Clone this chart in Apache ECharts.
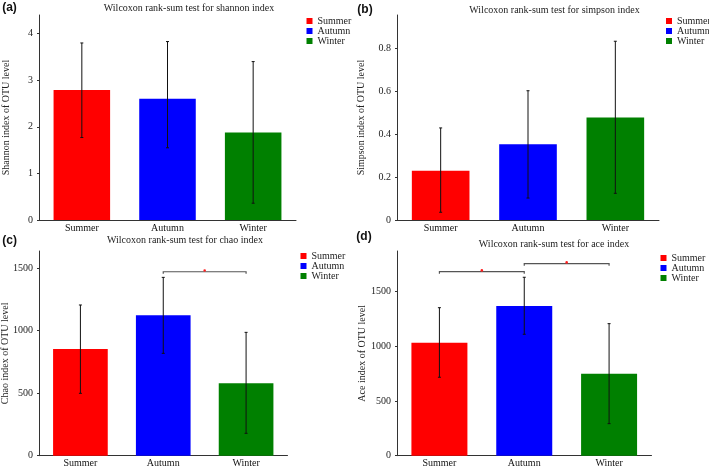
<!DOCTYPE html>
<html>
<head>
<meta charset="utf-8">
<script src="https://cdn.jsdelivr.net/npm/echarts@6/dist/echarts.min.js"></script>
<style>html,body{margin:0;padding:0;background:#fff}#c{width:709px;height:470px}</style>
</head>
<body>
<div id="c"></div>
<script>
const categories = ['Summer', 'Autumn', 'Winter'];
const colors = ['#ff0000', '#0000ff', '#008000'];

const shannonMean = [2.79, 2.60, 1.88];
const shannonLow = [1.77, 1.55, 0.36];
const shannonHigh = [3.80, 3.83, 3.40];
const shannonTicks = [0, 1, 2, 3, 4];

const simpsonMean = [0.229, 0.352, 0.476];
const simpsonLow = [0.036, 0.102, 0.124];
const simpsonHigh = [0.428, 0.601, 0.831];
const simpsonTicks = [0, 0.2, 0.4, 0.6, 0.8];

const chaoMean = [854, 1123, 579];
const chaoLow = [499, 819, 179];
const chaoHigh = [1206, 1427, 987];
const chaoTicks = [0, 500, 1000, 1500];
const chaoSig = [[1, 2, 1472]];

const aceMean = [1033, 1368, 750];
const aceLow = [717, 1110, 293];
const aceHigh = [1353, 1631, 1207];
const aceTicks = [0, 500, 1000, 1500];
const aceSig = [[0, 1, 1682], [1, 2, 1755]];

const panels = [
  {mean: shannonMean, low: shannonLow, high: shannonHigh, ticks: shannonTicks, max: 4.4, sig: [],
   title: 'Wilcoxon rank-sum test for shannon index', yname: 'Shannon index of OTU level', tag: '(a)',
   grid: {left: 39, top: 15, width: 257, height: 205}, nameGap: 28,
   titlePos: [189, 8], tagPos: [9.5, 7.5], legendPos: [306.5, 16]},
  {mean: simpsonMean, low: simpsonLow, high: simpsonHigh, ticks: simpsonTicks, max: 0.953, sig: [],
   title: 'Wilcoxon rank-sum test for simpson index', yname: 'Simpson index of OTU level', tag: '(b)',
   grid: {left: 397, top: 15, width: 262, height: 205}, nameGap: 31,
   titlePos: [554.5, 10], tagPos: [365, 10], legendPos: [666, 16]},
  {mean: chaoMean, low: chaoLow, high: chaoHigh, ticks: chaoTicks, max: 1638, sig: chaoSig,
   title: 'Wilcoxon rank-sum test for chao index', yname: 'Chao index of OTU level', tag: '(c)',
   grid: {left: 39, top: 251, width: 248.5, height: 204.7}, nameGap: 29,
   titlePos: [185, 240.5], tagPos: [9.7, 240.5], legendPos: [300.5, 251]},
  {mean: aceMean, low: aceLow, high: aceHigh, ticks: aceTicks, max: 1871, sig: aceSig,
   title: 'Wilcoxon rank-sum test for ace index', yname: 'Ace index of OTU level', tag: '(d)',
   grid: {left: 397, top: 251, width: 254.5, height: 204.7}, nameGap: 30,
   titlePos: [554, 244], tagPos: [364, 237], legendPos: [660.5, 253]}
];

const FONT = '"Liberation Serif", "Times New Roman", serif';
const grid = [], xAxis = [], yAxis = [], series = [], legend = [], graphic = [];

panels.forEach((p, gi) => {
  grid.push(Object.assign({outerBoundsMode: 'none', containLabel: false}, p.grid));
  xAxis.push({
    type: 'category', gridIndex: gi, data: categories,
    axisLine: {lineStyle: {color: '#333', width: 1}},
    axisTick: {show: false},
    axisLabel: {fontFamily: FONT, fontSize: 10, color: '#111', margin: 3}
  });
  yAxis.push({
    type: 'value', gridIndex: gi, min: 0, max: p.max,
    name: p.yname, nameLocation: 'middle', nameGap: p.nameGap, nameMoveOverlap: false,
    nameTextStyle: {fontFamily: FONT, fontSize: 10, color: '#222'},
    axisLine: {show: true, lineStyle: {color: '#333', width: 1}},
    axisTick: {show: true, length: 2, customValues: p.ticks, lineStyle: {color: '#333'}},
    axisLabel: {fontFamily: FONT, fontSize: 10, color: '#222', margin: 6, customValues: p.ticks,
                formatter: v => String(v)},
    splitLine: {show: false}
  });
  categories.forEach((name, ci) => {
    series.push({
      type: 'bar', name: name, xAxisIndex: gi, yAxisIndex: gi, stack: 'g' + gi,
      barWidth: '66%', itemStyle: {color: colors[ci]},
      data: categories.map((_, k) => k === ci ? p.mean[k] : '-'),
      emphasis: {disabled: true}
    });
  });
  series.push({
    type: 'custom', xAxisIndex: gi, yAxisIndex: gi, z: 5,
    encode: {x: 0, y: [1, 2]},
    data: categories.map((_, k) => [k, p.low[k], p.high[k]]),
    renderItem: function (params, api) {
      const x = api.value(0);
      const a = api.coord([x, api.value(2)]);
      const b = api.coord([x, api.value(1)]);
      const st = {stroke: '#111', lineWidth: 1};
      return {type: 'group', children: [
        {type: 'line', shape: {x1: a[0], y1: a[1], x2: b[0], y2: b[1]}, style: st},
        {type: 'line', shape: {x1: a[0] - 1.5, y1: a[1], x2: a[0] + 1.5, y2: a[1]}, style: st},
        {type: 'line', shape: {x1: b[0] - 1.5, y1: b[1], x2: b[0] + 1.5, y2: b[1]}, style: st}
      ]};
    }
  });
  if (p.sig.length) {
    series.push({
      type: 'custom', xAxisIndex: gi, yAxisIndex: gi, z: 6,
      encode: {x: [0, 1], y: 2},
      data: p.sig,
      renderItem: function (params, api) {
        const y = api.value(2);
        const a = api.coord([api.value(0), y]);
        const b = api.coord([api.value(1), y]);
        return {type: 'group', children: [
          {type: 'polyline', shape: {points: [[a[0], a[1] + 2], [a[0], a[1]], [b[0], b[1]], [b[0], b[1] + 2]]},
           style: {stroke: '#555', lineWidth: 1.2, fill: null}},
          {type: 'circle', shape: {cx: (a[0] + b[0]) / 2, cy: a[1] - 1.3, r: 1.3}, style: {fill: '#ff2020'}}
        ]};
      }
    });
  }
  legend.push({
    orient: 'vertical', left: p.legendPos[0], top: p.legendPos[1], padding: 0,
    itemWidth: 6, itemHeight: 6, itemGap: 0, icon: 'rect', selectedMode: false,
    data: categories,
    textStyle: {fontFamily: FONT, fontSize: 10, color: '#222', lineHeight: 9.3, padding: 0}
  });
  graphic.push({
    type: 'text', x: p.titlePos[0], y: p.titlePos[1],
    style: {text: p.title, font: '10px ' + FONT, fill: '#222', textAlign: 'center', textVerticalAlign: 'middle'}
  });
  graphic.push({
    type: 'text', x: p.tagPos[0], y: p.tagPos[1],
    style: {text: p.tag, font: 'bold 12px "Liberation Sans", Arial, sans-serif', fill: '#111', textAlign: 'center', textVerticalAlign: 'middle'}
  });
});

const chart = echarts.init(document.getElementById('c'), null, {renderer: 'canvas'});
chart.setOption({
  animation: false,
  backgroundColor: '#fff',
  grid, xAxis, yAxis, series, legend, graphic
});
</script>
</body>
</html>
